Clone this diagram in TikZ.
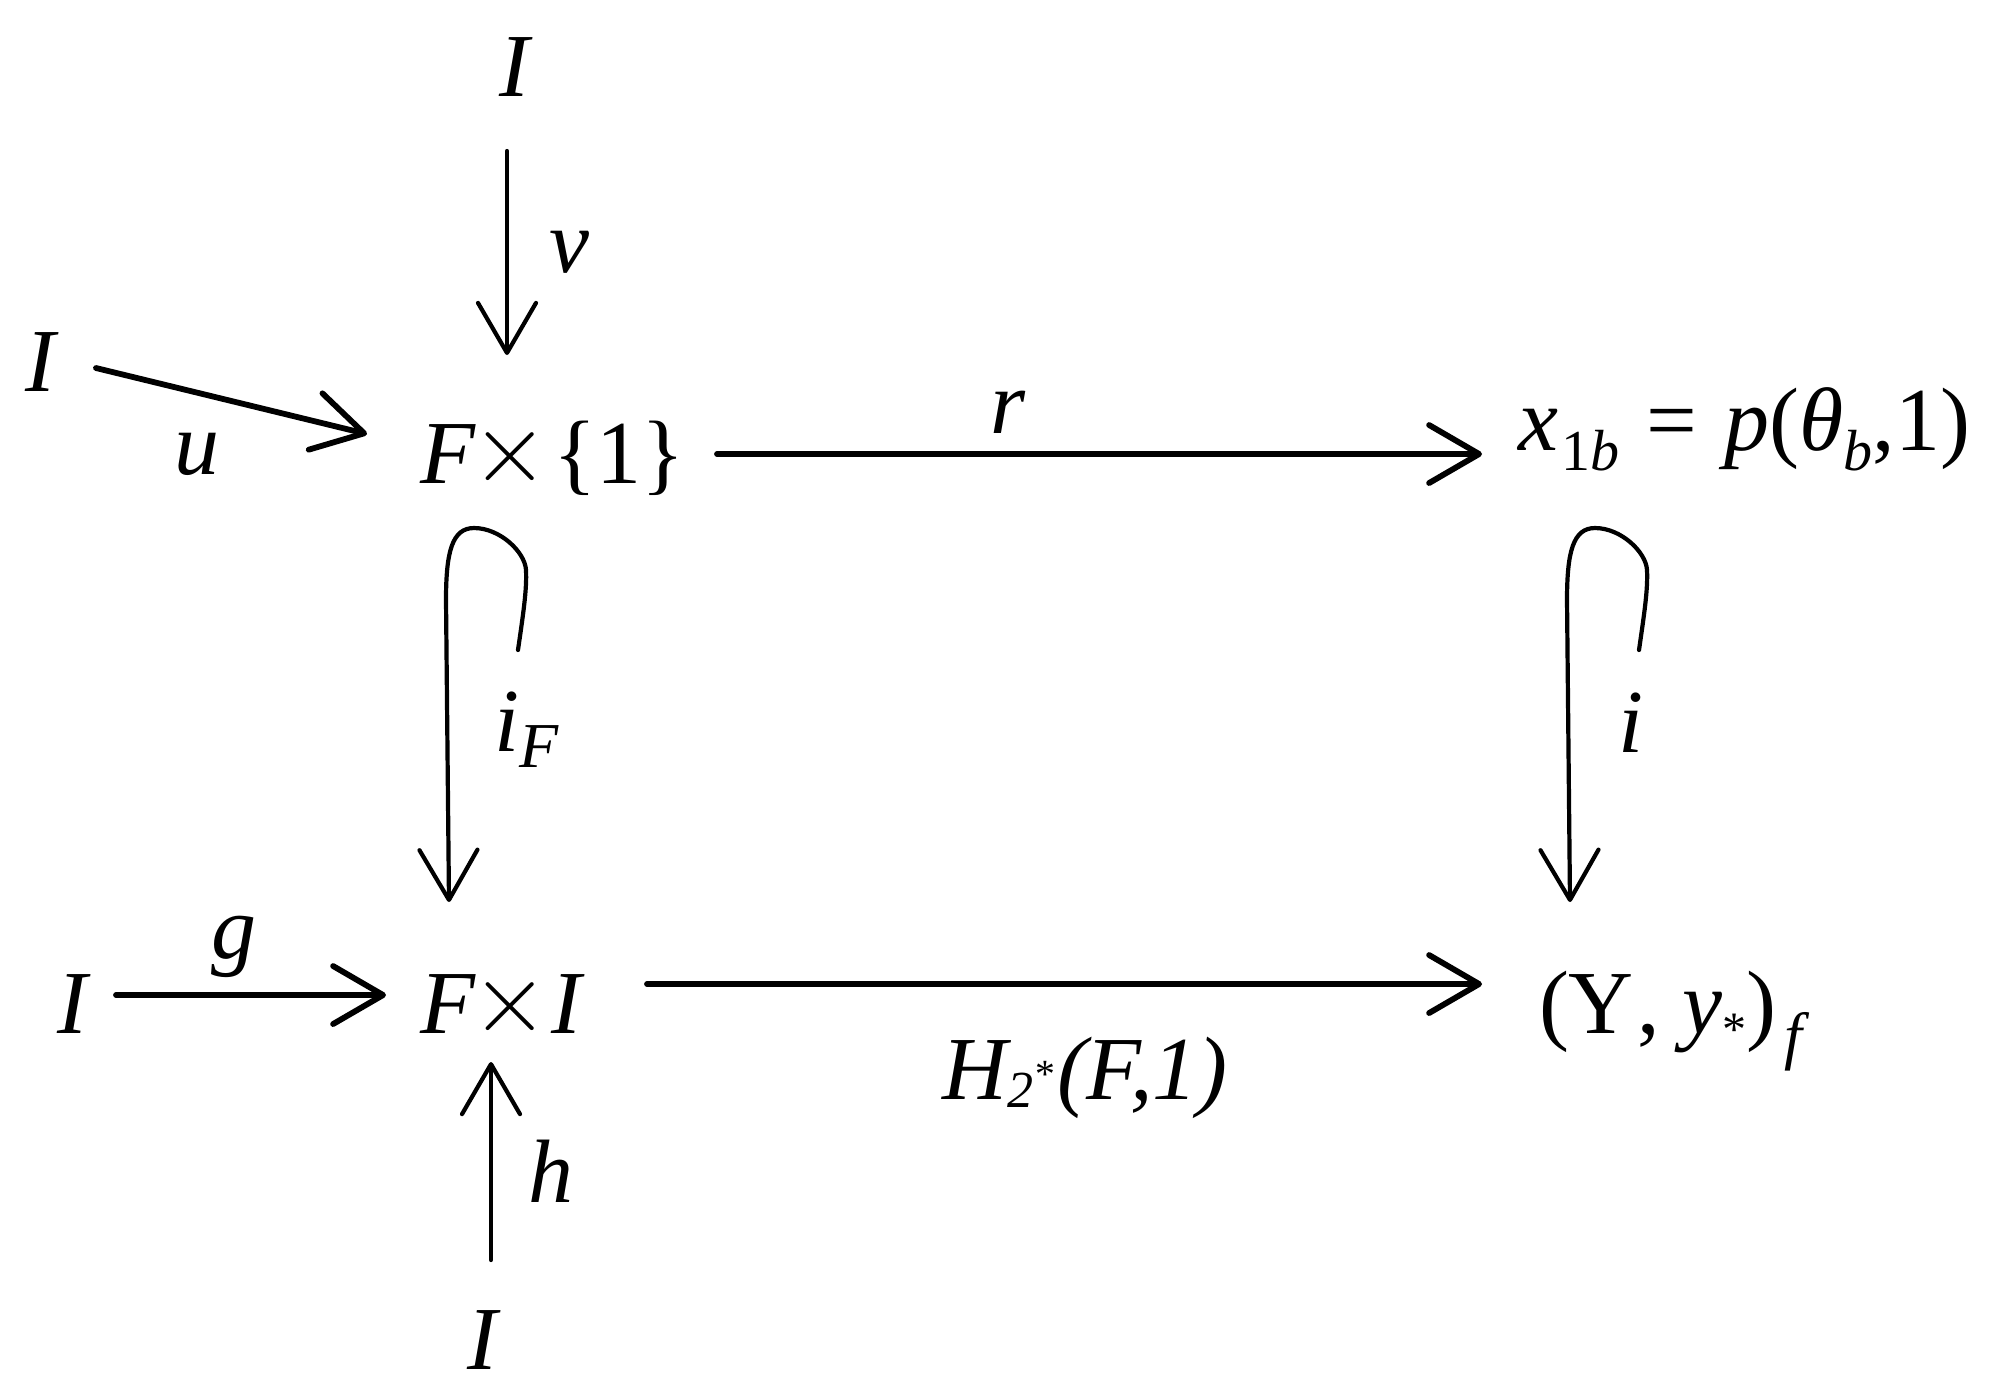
\documentclass[tikz,border=0pt]{standalone}
\usepackage{fontspec}
\setmainfont{Liberation Serif}
\usepackage{graphicx}
\usetikzlibrary{arrows.meta}
\newcommand\lo[1]{\raisebox{-5pt}{\fontsize{14.5}{14.5}\selectfont #1}}
\newcommand\loF[1]{\raisebox{-4pt}{\fontsize{16}{16}\selectfont #1}}
\newcommand\tms{\raisebox{0.5pt}{\fontsize{24}{24}\selectfont$\times$}}
\begin{document}
\begin{tikzpicture}[x=0.25pt,y=-0.25pt,
  every node/.style={inner sep=0pt,outer sep=0pt,font=\fontsize{22.5}{27}\selectfont},
  obj/.style={anchor=base},
  objw/.style={anchor=base west},
  arr/.style={line width=1.05pt,line cap=round,-{Straight Barb[length=12.5pt,width=14.5pt,line cap=round,line join=round]}},
  arrb/.style={arr,line width=1.45pt}]
\fill[white] (0,0) rectangle (2001,1397);
\path[use as bounding box] (0,0) rectangle (2001,1397);
% objects
\node[obj]  (topI) at (516,96)  {\textit{I}};
\node[obj]  (leftI) at (42,391) {\textit{I}};
\node[objw] (F1) at (420,483) {\textit{F}\hspace{-1pt}\tms\hspace{1pt}\{1\}};
\node[objw] (X1) at (1518,450) {\textit{x}\hspace{1pt}\lo{1\textit{b}}\hspace{0.3em}=\hspace{0.3em}\textit{p}(\textit{θ}\lo{\textit{b}},1)};
\node[obj]  (blI) at (74,1033) {\textit{I}};
\node[objw] (FI) at (420,1033) {\textit{F}\hspace{-1pt}\tms\hspace{0.5pt}\textit{I}};
\node[objw] (Y) at (1539,1033) {(Y\hspace{1pt}, \textit{y}\raisebox{-3pt}{\fontsize{12}{12}\selectfont *})\hspace{2pt}\raisebox{-6pt}{\fontsize{16}{16}\selectfont\textit{f}}};
\node[obj]  (botI) at (484,1369) {\textit{I}};
% labels
\node[obj] (lv) at (569,272) {\textit{v}};
\node[obj] (lu) at (197,474) {\textit{u}};
\node[obj] (lr) at (1008,433) {\textit{r}};
\node[objw] (liF) at (494,751) {\textit{i}\loF{\textit{F}}};
\node[obj] (li) at (1631,752) {\textit{i}};
\node[obj] (lg) at (234,958) {\textit{g}};
\node[obj] (lh) at (551,1202) {\textit{h}};
\node[objw] (lH) at (942,1099) {\textit{H\raisebox{-2pt}{\fontsize{13}{13}\selectfont 2\raisebox{5pt}{\fontsize{10}{10}\selectfont *}}\hspace{1pt}(F,1)}};
% arrow end points
\coordinate (v0) at (507,151);  \coordinate (v1) at (507,355);
\coordinate (u0) at (96,368);   \coordinate (u1) at (367,434);
\coordinate (r0) at (717,454);  \coordinate (r1) at (1482,454);
\coordinate (g0) at (116,995);  \coordinate (g1) at (386,995);
\coordinate (H0) at (647,984);  \coordinate (H1) at (1482,984);
\coordinate (h0) at (491,1260); \coordinate (h1) at (491,1062);
\coordinate (iF0) at (518,650); \coordinate (iF1) at (449,902);
\coordinate (i0) at (1639,650); \coordinate (i1) at (1570,902);
% arrows
\draw[arr]  (v0) -- (v1);
\draw[arrb] (u0) -- (u1);
\draw[arrb] (r0) -- (r1);
\draw[arrb] (g0) -- (g1);
\draw[arrb] (H0) -- (H1);
\draw[arr]  (h0) -- (h1);
\draw[arr] (iF0) .. controls (523,615) and (527,590) .. (526,570)
   .. controls (525,552) and (500,528) .. (474,528)
   .. controls (452,528) and (446,552) .. (446,600) -- (iF1);
\draw[arr] (i0) .. controls (1644,615) and (1648,590) .. (1647,570)
   .. controls (1646,552) and (1621,528) .. (1595,528)
   .. controls (1573,528) and (1567,552) .. (1567,600) -- (i1);
\end{tikzpicture}
\end{document}
